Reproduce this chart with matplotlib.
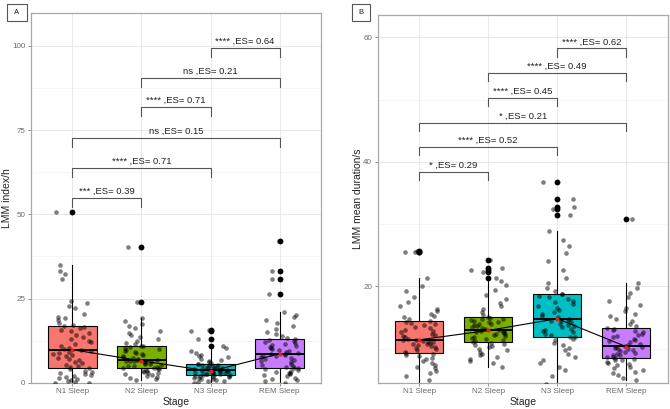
import numpy as np
import matplotlib
matplotlib.use("Agg")
import matplotlib.pyplot as plt
from matplotlib.patches import Rectangle

plt.rcParams['font.family'] = ['Liberation Sans', 'DejaVu Sans']

stages = ["N1 Sleep", "N2 Sleep", "N3 Sleep", "REM Sleep"]
colors = ["#F8766D", "#7CAE00", "#00BFC4", "#C77CFF"]

# Panel A: LMM index/h
a_n1 = [0, 0, 0.3, 0.6, 0.9, 1.2, 1.5, 1.8, 2.0, 2.3, 2.6, 2.9, 3.2, 3.6, 4.0,
        4.3, 4.6, 5.0, 5.4, 5.8, 6.2, 6.6, 7.0, 7.4, 7.8, 8.2, 8.5, 8.9, 9.2, 9.5,
        9.7, 10.0, 10.4, 10.9, 11.4, 12.0, 12.5, 13.1, 13.7, 14.2, 14.8, 15.3, 15.8, 16.2, 16.5,
        16.8, 17.2, 17.8, 18.5, 19.1, 19.6, 20.3, 22.1, 22.8, 23.6, 24.4, 30.9, 32.2, 33.1, 34.9, 50.7]
a_n2 = [0.9, 1.2, 1.5, 1.8, 2.0, 2.3, 2.5, 2.8, 3.0, 3.2, 3.4, 3.6, 3.8, 4.0, 4.2,
        4.3, 4.5, 4.7, 4.9, 5.1, 5.3, 5.5, 5.7, 5.9, 6.0, 6.1, 6.3, 6.4, 6.5, 6.6,
        6.7, 7.0, 7.3, 7.6, 7.9, 8.2, 8.5, 8.8, 9.1, 9.4, 9.7, 10.0, 10.3, 10.6, 10.8,
        10.9, 11.4, 11.9, 12.4, 13.0, 13.6, 14.2, 14.8, 15.5, 16.1, 16.8, 17.5, 18.3, 19.1, 24.0, 40.2]
a_n3 = [0, 0.2, 0.4, 0.6, 0.8, 1.0, 1.2, 1.3, 1.5, 1.6, 1.8, 1.9, 2.0, 2.1, 2.2,
        2.3, 2.4, 2.5, 2.6, 2.7, 2.8, 2.9, 3.0, 3.1, 3.2, 3.3, 3.4, 3.5, 3.6, 3.7,
        3.8, 3.9, 4.0, 4.1, 4.2, 4.3, 4.4, 4.5, 4.6, 4.8, 4.9, 5.0, 5.2, 5.3, 5.5,
        5.6, 5.9, 6.2, 6.5, 6.8, 7.1, 7.5, 7.9, 8.3, 8.8, 9.5, 10.4, 10.9, 12.9, 15.5, 15.8]
a_rem = [0, 0.5, 0.9, 1.2, 1.5, 1.9, 2.2, 2.5, 2.8, 3.0, 3.3, 3.6, 3.8, 4.1, 4.3,
         4.4, 4.8, 5.1, 5.4, 5.7, 6.0, 6.3, 6.6, 6.9, 7.2, 7.5, 7.8, 8.0, 8.2, 8.4,
         8.5, 8.8, 9.1, 9.4, 9.7, 10.0, 10.3, 10.6, 10.9, 11.2, 11.5, 11.8, 12.1, 12.4, 12.7,
         12.9, 13.4, 14.0, 14.6, 15.2, 15.9, 16.8, 17.6, 18.5, 19.4, 20.2, 21.0, 26.3, 30.7, 33.2, 42.2]
means_a = [9.8, 6.5, 3.4, 8.6]

# Panel B: LMM mean duration/s
b_n1 = [4.0, 5.0, 5.6, 6.0, 6.4, 6.8, 7.1, 7.4, 7.7, 8.0, 8.3, 8.5, 8.8, 9.0, 9.2,
        9.3, 9.5, 9.7, 9.9, 10.1, 10.3, 10.4, 10.6, 10.7, 10.8, 10.9, 11.0, 11.1, 11.2, 11.3,
        11.4, 11.6, 11.8, 12.0, 12.2, 12.4, 12.6, 12.8, 13.0, 13.3, 13.5, 13.7, 13.9, 14.1, 14.3,
        14.4, 14.7, 15.0, 15.3, 15.6, 16.0, 16.4, 16.9, 17.5, 18.2, 19.2, 20.1, 21.3, 25.5, 25.5, 25.6]
b_n2 = [7.1, 7.6, 8.0, 8.3, 8.6, 8.9, 9.2, 9.5, 9.8, 10.0, 10.2, 10.4, 10.6, 10.8, 10.9,
        11.0, 11.2, 11.4, 11.6, 11.7, 11.9, 12.0, 12.1, 12.3, 12.4, 12.5, 12.6, 12.7, 12.8, 12.85,
        12.9, 13.1, 13.3, 13.4, 13.6, 13.7, 13.9, 14.0, 14.2, 14.3, 14.5, 14.6, 14.7, 14.8, 14.9,
        15.0, 15.4, 15.8, 16.3, 16.8, 17.3, 17.9, 18.6, 19.4, 20.2, 20.9, 21.3, 22.3, 22.6, 22.9, 24.2]
b_n3 = [4.3, 5.6, 6.5, 7.0, 7.6, 8.2, 8.7, 9.2, 9.7, 10.1, 10.5, 10.9, 11.3, 11.6, 11.8,
        11.9, 12.1, 12.4, 12.6, 12.8, 13.0, 13.2, 13.4, 13.6, 13.8, 14.0, 14.2, 14.4, 14.5, 14.6,
        14.7, 15.0, 15.3, 15.6, 15.9, 16.2, 16.5, 16.8, 17.1, 17.4, 17.7, 18.0, 18.3, 18.5, 18.7,
        18.8, 19.3, 19.8, 20.5, 21.4, 22.6, 24.0, 25.3, 26.5, 27.4, 28.9, 31.4, 32.4, 32.8, 34.0, 36.8]
b_rem = [4.9, 5.3, 5.7, 6.0, 6.3, 6.6, 6.9, 7.1, 7.3, 7.5, 7.7, 7.9, 8.1, 8.2, 8.3,
         8.4, 8.6, 8.7, 8.9, 9.0, 9.2, 9.3, 9.5, 9.6, 9.8, 9.9, 10.0, 10.1, 10.2, 10.3,
         10.4, 10.6, 10.8, 11.0, 11.2, 11.4, 11.6, 11.8, 12.0, 12.2, 12.4, 12.6, 12.8, 13.0, 13.2,
         13.3, 13.6, 14.0, 14.4, 14.8, 15.2, 15.6, 16.0, 16.5, 17.0, 17.6, 18.3, 19.0, 19.8, 20.5, 30.8]
means_b = [11.4, 12.9, 14.8, 10.3]

# Significance brackets: (group i, group j, height, label)
brackets_a = [(1, 2, 54.8, "*** ,ES= 0.39"),
              (1, 3, 63.7, "**** ,ES= 0.71"),
              (1, 4, 72.7, "ns ,ES= 0.15"),
              (2, 3, 81.8, "**** ,ES= 0.71"),
              (2, 4, 90.6, "ns ,ES= 0.21"),
              (3, 4, 99.5, "**** ,ES= 0.64")]
brackets_b = [(1, 2, 38.4, "* ,ES= 0.29"),
              (1, 3, 42.4, "**** ,ES= 0.52"),
              (1, 4, 46.3, "* ,ES= 0.21"),
              (2, 3, 50.3, "**** ,ES= 0.45"),
              (2, 4, 54.2, "**** ,ES= 0.49"),
              (3, 4, 58.2, "**** ,ES= 0.62")]

W, H = 670, 409
fig = plt.figure(figsize=(W / 100, H / 100), dpi=100)


def px_axes(l, t, r, b):
    return fig.add_axes([l / W, 1 - b / H, (r - l) / W, (b - t) / H])


def jitter(n, seed):
    # deterministic, hash-like horizontal scatter (a style, not data)
    k = np.arange(n) + 1.0 + seed * 101.0
    f = np.sin(k * 12.9898 + seed * 78.233) * 43758.5453
    return (f - np.floor(f)) - 0.5


def panel(ax, groups, means, brackets, ylim, yticks, yminor, ylabel, tip, seed, labx):
    pos = np.arange(1, 5)
    ax.set_xlim(0.4, 4.6)
    ax.set_ylim(*ylim)
    ax.set_facecolor("white")
    for y in yminor:
        ax.axhline(y, color="#F3F3F3", lw=0.5, zorder=0)
    for y in yticks:
        ax.axhline(y, color="#E8E8E8", lw=0.7, zorder=0)
    for x in pos:
        ax.axvline(x, color="#E8E8E8", lw=0.7, zorder=0)
    bp = ax.boxplot(groups, positions=pos, widths=0.7, patch_artist=True,
                    whis=1.5, manage_ticks=False,
                    boxprops=dict(edgecolor="black", linewidth=0.8),
                    whiskerprops=dict(color="black", linewidth=0.8),
                    capprops=dict(linewidth=0),
                    medianprops=dict(color="black", linewidth=1.4),
                    flierprops=dict(marker="o", markerfacecolor="black",
                                    markeredgecolor="none", markersize=4.2))
    for patch, c in zip(bp["boxes"], colors):
        patch.set_facecolor(c)
        patch.set_zorder(2)
    for k in ("whiskers", "medians", "fliers"):
        for art in bp[k]:
            art.set_zorder(2)
    for g, vals in enumerate(groups):
        offs = jitter(len(vals), seed * 4 + g) * 0.56
        ax.scatter(pos[g] + offs, vals, s=11, color="black", alpha=0.5,
                   linewidths=0, zorder=3)
    ax.plot(pos, means, color="black", lw=0.8, zorder=4)
    ax.scatter(pos, means, s=9, color="#E0201B", zorder=5, linewidths=0)
    for i, j, h, lab in brackets:
        ax.plot([i, i, j, j], [h - tip, h, h, h - tip], color="#555555", lw=0.8,
                zorder=4, clip_on=False)
        ax.annotate(lab, xy=((i + j) / 2, h), xytext=(0, 1.5),
                    textcoords="offset points", ha="center", va="bottom",
                    fontsize=6.8, color="#222222")
    ax.set_xticks(pos)
    ax.set_xticklabels(stages)
    ax.set_yticks(yticks)
    ax.set_yticklabels([str(v) for v in yticks])
    ax.tick_params(axis="both", colors="#7F7F7F", labelcolor="#6A6A6A",
                   labelsize=5.8, length=2.5, width=0.6, pad=1.5)
    ax.set_xlabel("Stage", fontsize=7.5, color="#222222", labelpad=1.5)
    ax.set_ylabel(ylabel, fontsize=7.5, color="#222222")
    ax.yaxis.set_label_coords(labx, 0.5)
    for s in ax.spines.values():
        s.set_color("#A8A8A8")
        s.set_linewidth(0.9)


axA = px_axes(31, 13, 321, 382.7)
panel(axA, [a_n1, a_n2, a_n3, a_rem], means_a, brackets_a, (0, 109.8),
      [0, 25, 50, 75, 100], [12.5, 37.5, 62.5, 87.5], "LMM index/h", 2.7, 0,
      (11.5 - 31) / 290)

axB = px_axes(377.7, 15, 667.7, 382.7)
panel(axB, [b_n1, b_n2, b_n3, b_rem], means_b, brackets_b, (4.51, 63.58),
      [20, 40, 60], [10, 30, 50], "LMM mean duration/s", 1.3, 1,
      (363 - 377.7) / 290)


def tag(l, t, r, b, txt):
    fig.patches.append(Rectangle((l / W, 1 - b / H), (r - l) / W, (b - t) / H,
                                 transform=fig.transFigure, fill=False,
                                 edgecolor="#555555", lw=0.8))
    fig.text((l + r) / 2 / W, 1 - (t + b) / 2 / H, txt, ha="center", va="center",
             fontsize=5.5, color="#222222")


tag(7, 4, 27, 21, "A")
tag(352, 4, 370, 21, "B")

fig.savefig("out.png", dpi=100, facecolor="white")
